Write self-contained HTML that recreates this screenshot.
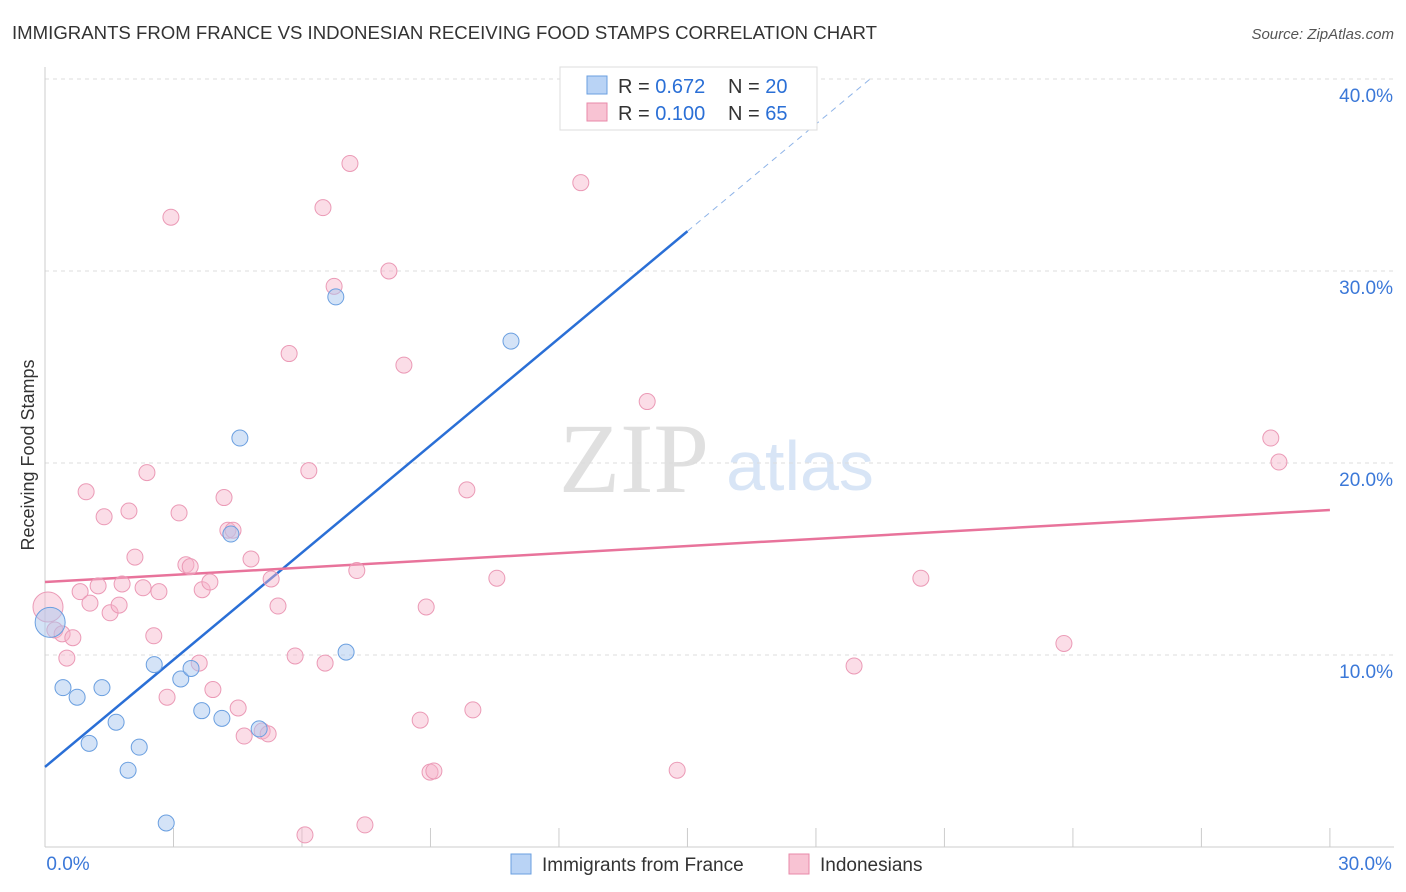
<!DOCTYPE html>
<html><head><meta charset="utf-8">
<style>
body{margin:0;background:#fff;font-family:"Liberation Sans",sans-serif;}
#wrap{position:relative;width:1406px;height:892px;overflow:hidden;}
</style></head>
<body>
<div id="wrap">
<svg id="chart" width="1406" height="892">
<text x="12" y="39" font-size="18" fill="#333" textLength="865" lengthAdjust="spacingAndGlyphs">IMMIGRANTS FROM FRANCE VS INDONESIAN RECEIVING FOOD STAMPS CORRELATION CHART</text>
<text x="1394" y="39" font-size="15" fill="#555" font-style="italic" text-anchor="end">Source: ZipAtlas.com</text>
<text x="34" y="455" font-size="18" fill="#333" text-anchor="middle" transform="rotate(-90 34 455)">Receiving Food Stamps</text>
<text x="634" y="492" font-size="100" fill="#e0e0e0" font-family="Liberation Serif,serif" text-anchor="middle">ZIP</text>
<text x="800" y="490" font-size="70" fill="#d8e5f6" text-anchor="middle">atlas</text>
<g id="grid"></g><g id="axes"></g><g id="lines"></g><g id="points"></g>
<g>
<rect x="560" y="67" width="257" height="63" fill="#fff" stroke="#ddd"/>
<rect x="587" y="76" width="20" height="18" fill="#b9d3f5" stroke="#6a9fe0"/>
<rect x="587" y="103" width="20" height="18" fill="#f8c3d3" stroke="#e88aaa"/>
<text x="618" y="93" font-size="20" fill="#333">R = <tspan fill="#2a6fd6">0.672</tspan></text>
<text x="728" y="93" font-size="20" fill="#333">N = <tspan fill="#2a6fd6">20</tspan></text>
<text x="618" y="120" font-size="20" fill="#333">R = <tspan fill="#2a6fd6">0.100</tspan></text>
<text x="728" y="120" font-size="20" fill="#333">N = <tspan fill="#2a6fd6">65</tspan></text>
</g>
<g>
<rect x="511" y="854" width="20" height="20" fill="#b9d3f5" stroke="#6a9fe0"/>
<text x="542" y="871" font-size="19" fill="#333">Immigrants from France</text>
<rect x="789" y="854" width="20" height="20" fill="#f8c3d3" stroke="#e88aaa"/>
<text x="820" y="871" font-size="19" fill="#333">Indonesians</text>
</g>
</svg>
</div>
<script>
const blueX=[0.12,0.42,0.75,1.03,1.33,1.66,1.94,2.20,2.55,2.83,3.17,3.41,3.66,4.13,4.34,4.55,5.00,6.79,7.03,10.88];
const blueY=[11.7,8.3,7.8,5.4,8.3,6.5,4.0,5.2,9.5,1.25,8.75,9.3,7.1,6.7,16.3,21.3,6.15,28.65,10.15,26.35];
const pinkX=[0.07,0.23,0.40,0.51,0.65,0.82,0.96,1.05,1.24,1.38,1.52,1.73,1.80,1.96,2.10,2.29,2.38,2.54,2.66,2.85,2.94,3.13,3.29,3.39,3.67,3.85,3.92,4.18,4.27,4.39,4.51,4.65,4.81,5.07,5.21,5.28,5.44,5.70,5.84,6.07,6.16,6.49,6.54,6.75,7.12,7.28,7.47,8.03,8.38,8.76,8.90,8.99,9.08,9.85,9.99,10.55,12.51,14.06,14.76,18.89,20.45,23.79,28.62,28.81,3.60];
const pinkY=[12.5,11.3,11.1,9.84,10.9,13.3,18.5,12.7,13.6,17.2,12.2,12.6,13.7,17.5,15.1,13.5,19.5,11.0,13.3,7.8,32.8,17.4,14.7,14.6,13.4,13.8,8.2,18.2,16.5,16.5,7.24,5.78,15.0,6.04,5.89,13.96,12.55,25.7,9.95,0.63,19.6,33.3,9.58,29.2,35.6,14.4,1.15,30.0,25.1,6.61,12.5,3.9,3.96,18.6,7.14,14.0,34.6,23.2,4.0,9.43,14.0,10.6,21.3,20.05,9.58];
const yTicks=[10,20,30,40];
const yTickLabels=["10.0%","20.0%","30.0%","40.0%"];
const xTickLabels=["0.0%","30.0%"];
const blueTrend={intercept:4.17,slope:1.86,solidEnd:15.0,dashEnd:19.3};
const pinkTrend={intercept:13.8,slope:0.125};

const NS="http://www.w3.org/2000/svg";
const X=v=>45+v*42.83, Y=v=>847-v*19.2;
function mk(tag,attrs,parent){const e=document.createElementNS(NS,tag);for(const k in attrs)e.setAttribute(k,attrs[k]);document.getElementById(parent).appendChild(e);return e;}
yTicks.forEach((t,i)=>{
  const g=mk('line',{x1:45,x2:1394,y1:Y(t),y2:Y(t),stroke:'#ddd','stroke-dasharray':'4,4'},'grid');
  
  
  const l=mk('text',{x:1393,y:Y(t)+23,'font-size':19,fill:'#3b78d8','text-anchor':'end'},'axes');
  l.textContent=yTickLabels[i];
  
  
});
const ax=mk('line',{x1:45,x2:1394,y1:847,y2:847,stroke:'#ccc'},'axes');


const ay=mk('line',{x1:45,x2:45,y1:67,y2:847,stroke:'#ccc'},'axes');


for(let i=0;i<=10;i++){
  const t=mk('line',{x1:X(i*3),x2:X(i*3),y1:828,y2:847,stroke:'#ccc'},'axes');
  
  
}
[[0,68],[30,1365]].forEach((p,i)=>{
  const l=mk('text',{x:p[1],y:870,'font-size':19,fill:'#3b78d8','text-anchor':'middle'},'axes');
  l.textContent=xTickLabels[i];
  
  
});
pinkX.forEach((x,i)=>{
  const c=mk('circle',{cx:X(x),cy:Y(pinkY[i]),r:i===0?15:8,fill:'rgba(246,180,202,0.45)',stroke:'#eb9ab6','stroke-width':1},'points');
  
  
});
blueX.forEach((x,i)=>{
  const c=mk('circle',{cx:X(x),cy:Y(blueY[i]),r:i===0?15:8,fill:'rgba(169,200,240,0.5)',stroke:'#6a9fe0','stroke-width':1},'points');
  
  
});
const bt=blueTrend;
const b1=mk('line',{x1:X(0),y1:Y(bt.intercept),x2:X(bt.solidEnd),y2:Y(bt.intercept+bt.slope*bt.solidEnd),stroke:'#2a6fd6','stroke-width':2.5},'lines');


const b2=mk('line',{x1:X(bt.solidEnd),y1:Y(bt.intercept+bt.slope*bt.solidEnd),x2:X(bt.dashEnd),y2:Y(bt.intercept+bt.slope*bt.dashEnd),stroke:'#8fb4e8','stroke-width':1,'stroke-dasharray':'6,5'},'lines');


const p1=mk('line',{x1:X(0),y1:Y(pinkTrend.intercept),x2:X(30),y2:Y(pinkTrend.intercept+pinkTrend.slope*30),stroke:'#e8739b','stroke-width':2.5},'lines');


</script>
</body></html>
